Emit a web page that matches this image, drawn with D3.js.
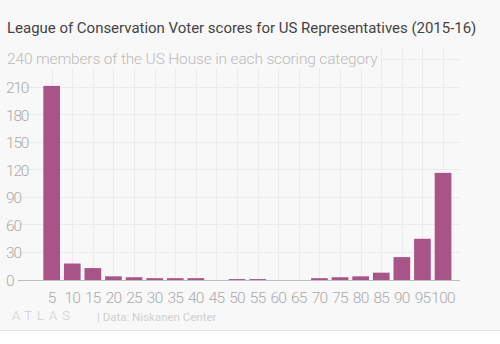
<!DOCTYPE html>
<html>
<head>
<meta charset="utf-8">
<script src="https://cdn.jsdelivr.net/npm/d3@7"></script>
<style>
  body { margin: 0; background: #fff; }
  svg { display: block; font-family: Roboto, "Open Sans", sans-serif; }
</style>
</head>
<body>
<svg id="chart" width="500" height="344"></svg>
<script>
// scores (bin labels) and number of representatives in each bin
const scores = ["5", "10", "15", "20", "25", "30", "35", "40", "45", "50",
                "55", "60", "65", "70", "75", "80", "85", "90", "95", "100"];
const members = [212, 18, 13, 4, 3, 2, 2, 2, 0, 1,
                 1, 0, 0, 2, 3, 4, 8, 25, 45, 117];
const yTicks = [0, 30, 60, 90, 120, 150, 180, 210, 240];

const title = "League of Conservation Voter scores for US Representatives (2015-16)";
const subtitle = "240 members of the US House in each scoring category";

const svg = d3.select("#chart");

// page background + footer strip
svg.append("rect").attr("width", 500).attr("height", 330).attr("fill", "#f8f8f8");
svg.append("line").attr("x1", 0).attr("x2", 500).attr("y1", 330.5).attr("y2", 330.5)
  .attr("stroke", "#e6e6e6");

const x = d3.scaleBand()
  .domain(scores)
  .range([39.4, 455.3])
  .padding(0.19);

const y = d3.scaleLinear()
  .domain([0, 254])
  .range([280, 47.5]);

// grid
const grid = svg.append("g");
grid.selectAll(".hgrid")
  .data(yTicks.slice(1))
  .enter()
  .append("line")
  .attr("x1", 18).attr("x2", 460)
  .attr("y1", d => Math.round(y(d)) - 0.5)
  .attr("y2", d => Math.round(y(d)) - 0.5)
  .attr("stroke", "#ebebeb");

grid.selectAll(".vgrid")
  .data(scores)
  .enter()
  .append("line")
  .attr("x1", d => Math.round(x(d) + x.bandwidth() / 2) + 0.5)
  .attr("x2", d => Math.round(x(d) + x.bandwidth() / 2) + 0.5)
  .attr("y1", 47).attr("y2", y(0))
  .attr("stroke", "#ebebeb");

// bars
svg.selectAll(".bar")
  .data(members)
  .enter()
  .append("rect")
  .attr("class", "bar")
  .attr("x", (d, i) => x(scores[i]))
  .attr("y", d => y(d))
  .attr("width", x.bandwidth())
  .attr("height", d => y(0) - y(d))
  .attr("fill", "#a85489");

// baseline
svg.append("line")
  .attr("x1", 18).attr("x2", 460)
  .attr("y1", y(0) + 0.5).attr("y2", y(0) + 0.5)
  .attr("stroke", "#bdbdbd");

// y labels (240 hidden behind subtitle)
svg.selectAll(".ylab")
  .data(yTicks.filter(d => d < 240))
  .enter()
  .append("text")
  .attr("x", 6)
  .attr("y", d => y(d) + 5.5)
  .attr("font-size", 15.5)
  .attr("font-weight", 300)
  .attr("letter-spacing", -1.2)
  .attr("fill", "#aaa")
  .text(d => d);

// x labels
svg.selectAll(".xlab")
  .data(scores)
  .enter()
  .append("text")
  .attr("x", d => x(d) + x.bandwidth() / 2)
  .attr("y", 303)
  .attr("text-anchor", "middle")
  .attr("font-size", 15.5)
  .attr("font-weight", 300)
  .attr("letter-spacing", -0.8)
  .attr("fill", "#aaa")
  .text(d => d);

// titles
svg.append("text").attr("x", 7).attr("y", 33)
  .attr("font-size", 15).attr("fill", "#444")
  .attr("letter-spacing", -0.02)
  .text(title);
svg.append("rect").attr("x", 0).attr("y", 46).attr("width", 380).attr("height", 22)
  .attr("fill", "#f8f8f8");
svg.append("text").attr("x", 7).attr("y", 64)
  .attr("font-size", 15.5).attr("font-weight", 300).attr("fill", "#bbb")
  .attr("letter-spacing", -0.15)
  .text(subtitle);

// footer
svg.append("text").attr("x", 12).attr("y", 319.5)
  .attr("font-size", 13).attr("font-weight", 300).attr("fill", "#cfcfcf")
  .attr("letter-spacing", 5)
  .text("ATLAS");
svg.append("text").attr("x", 97).attr("y", 321)
  .attr("font-size", 11.5).attr("fill", "#d0d0d0")
  .text("| Data: Niskanen Center");
</script>
</body>
</html>
